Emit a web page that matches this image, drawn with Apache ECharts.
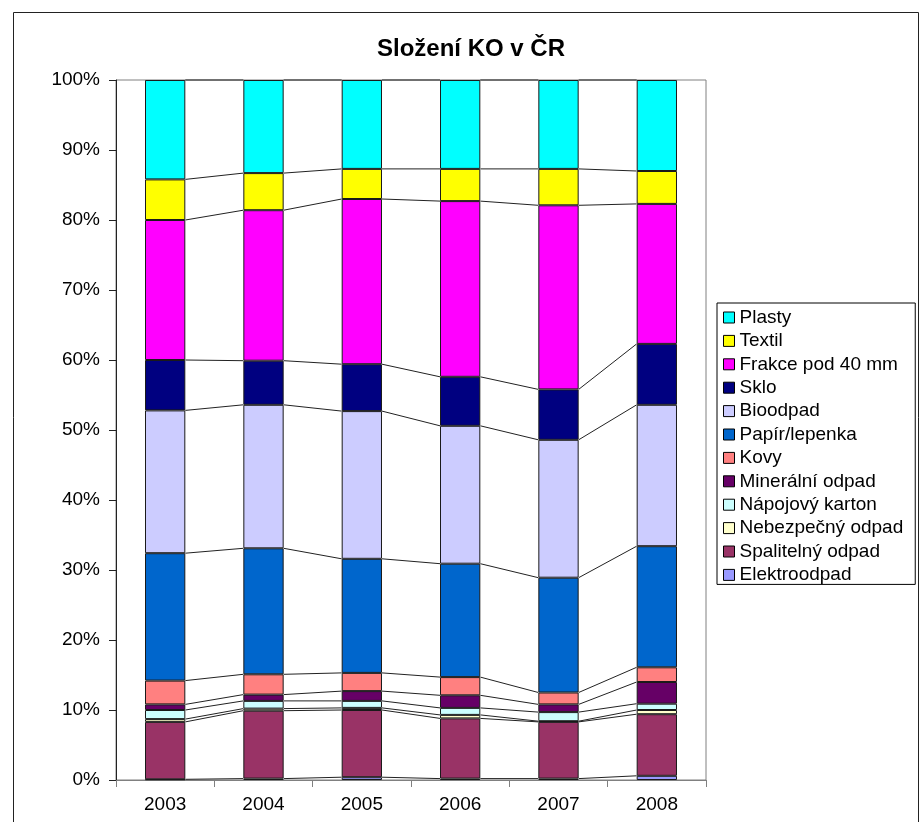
<!DOCTYPE html>
<html>
<head>
<meta charset="utf-8">
<title>Složení KO v ČR</title>
<script src="https://cdn.jsdelivr.net/npm/echarts@6/dist/echarts.min.js"></script>
<style>
  html, body { margin: 0; padding: 0; background: #fff; }
  #chart { width: 924px; height: 822px; }
</style>
</head>
<body>
<div id="chart"></div>
<script>
// Years on the x axis
const years = ['2003', '2004', '2005', '2006', '2007', '2008'];

// Share of each waste component in municipal waste (%), bottom to top of each bar
const elektroodpad = [0.1, 0.2, 0.4, 0.2, 0.2, 0.6];
const spalitelny   = [8.2, 9.7, 9.6, 8.6, 8.1, 8.8];
const nebezpecny   = [0.4, 0.3, 0.3, 0.5, 0.1, 0.6];
const napojovy     = [1.3, 1.1, 1.0, 1.0, 1.3, 0.9];
const mineralni    = [0.8, 0.9, 1.4, 1.8, 1.1, 3.1];
const kovy         = [3.4, 2.9, 2.6, 2.6, 1.7, 2.1];
const papir        = [18.2, 18.0, 16.3, 16.2, 16.4, 17.3];
const bioodpad     = [20.4, 20.5, 21.1, 19.7, 19.7, 20.2];
const sklo         = [7.2, 6.3, 6.7, 7.0, 7.2, 8.7];
const frakce       = [20.0, 21.5, 23.6, 25.1, 26.3, 20.0];
const textil       = [5.8, 5.3, 4.3, 4.6, 5.2, 4.7];
const plasty       = [14.2, 13.3, 12.7, 12.7, 12.7, 13.0];

// Y axis ticks
const yTicks = [0, 10, 20, 30, 40, 50, 60, 70, 80, 90, 100];

const layers = [
  { name: 'Elektroodpad',      data: elektroodpad, color: '#9999FF' },
  { name: 'Spalitelný odpad',  data: spalitelny,   color: '#993366' },
  { name: 'Nebezpečný odpad',  data: nebezpecny,   color: '#FFFFCC' },
  { name: 'Nápojový karton',   data: napojovy,     color: '#CCFFFF' },
  { name: 'Minerální odpad',   data: mineralni,    color: '#660066' },
  { name: 'Kovy',              data: kovy,         color: '#FF8080' },
  { name: 'Papír/lepenka',     data: papir,        color: '#0066CC' },
  { name: 'Bioodpad',          data: bioodpad,     color: '#CCCCFF' },
  { name: 'Sklo',              data: sklo,         color: '#000080' },
  { name: 'Frakce pod 40 mm',  data: frakce,       color: '#FF00FF' },
  { name: 'Textil',            data: textil,       color: '#FFFF00' },
  { name: 'Plasty',            data: plasty,       color: '#00FFFF' }
];

const BAR_RATIO = 0.41;
const FONT = '"Liberation Sans", Arial, sans-serif';

// Running tops of each stacked layer, used for the connector lines
const tops = [];
(function () {
  const run = years.map(() => 0);
  layers.forEach(l => {
    l.data.forEach((v, i) => { run[i] += v; });
    tops.push(run.slice());
  });
})();

const barSeries = layers.map(l => ({
  name: l.name,
  type: 'bar',
  stack: 'ko',
  barWidth: (BAR_RATIO * 100) + '%',
  data: l.data,
  itemStyle: { color: l.color, borderColor: '#1a1a1a', borderWidth: 1 },
  emphasis: { disabled: true }
}));

// Connector lines between neighbouring bars at every layer boundary
const connectorSeries = {
  type: 'custom',
  silent: true,
  z: 1,
  data: years.slice(0, -1).map((y, i) => [i, 0]),
  encode: { x: 0, y: 1 },
  renderItem: function (params, api) {
    const i = params.dataIndex;
    const half = api.size([1, 0])[0] * BAR_RATIO / 2;
    const children = tops.map(t => {
      const a = api.coord([i, t[i]]);
      const b = api.coord([i + 1, t[i + 1]]);
      return {
        type: 'line',
        shape: { x1: a[0] + half, y1: a[1], x2: b[0] - half, y2: b[1] },
        style: { stroke: '#222', lineWidth: 1 }
      };
    });
    return { type: 'group', children: children };
  }
};

const chart = echarts.init(document.getElementById('chart'), null, { renderer: 'canvas' });
chart.setOption({
  animation: false,
  backgroundColor: '#fff',
  title: {
    text: 'Složení KO v ČR',
    left: 466,
    textAlign: 'center',
    top: 32,
    textStyle: { fontFamily: FONT, fontSize: 24, fontWeight: 'bold', color: '#000' }
  },
  graphic: [{
    type: 'rect',
    shape: { x: 13.5, y: 12.5, width: 905, height: 900 },
    style: { fill: 'none', stroke: '#222', lineWidth: 1 },
    silent: true
  }],
  legend: {
    orient: 'vertical',
    left: 717,
    top: 303,
    data: layers.map(l => l.name).reverse(),
    icon: 'rect',
    itemWidth: 11,
    itemHeight: 11,
    itemGap: 4.4,
    padding: [5, 12, 0, 6],
    borderColor: '#000',
    borderWidth: 1,
    backgroundColor: '#fff',
    selectedMode: false,
    itemStyle: { borderColor: '#000', borderWidth: 1 },
    textStyle: { fontFamily: FONT, fontSize: 19, color: '#000' }
  },
  grid: {
    left: 116, right: 218, top: 80, bottom: 42,
    show: true, borderColor: '#808080', borderWidth: 1, backgroundColor: 'transparent'
  },
  xAxis: {
    type: 'category',
    data: years,
    axisLine: { lineStyle: { color: '#808080', width: 1 } },
    axisTick: { show: true, length: 7, lineStyle: { color: '#808080' } },
    axisLabel: { fontFamily: FONT, fontSize: 19, color: '#000', margin: 15 },
    splitLine: { show: false }
  },
  yAxis: {
    type: 'value',
    min: yTicks[0],
    max: yTicks[yTicks.length - 1],
    interval: yTicks[1] - yTicks[0],
    axisLine: { show: true, lineStyle: { color: '#222', width: 1 } },
    axisTick: { show: true, length: 7, lineStyle: { color: '#222' } },
    axisLabel: { fontFamily: FONT, fontSize: 19, color: '#000', margin: 16, formatter: '{value}%' },
    splitLine: { show: false }
  },
  series: barSeries.concat([connectorSeries])
});
</script>
</body>
</html>
